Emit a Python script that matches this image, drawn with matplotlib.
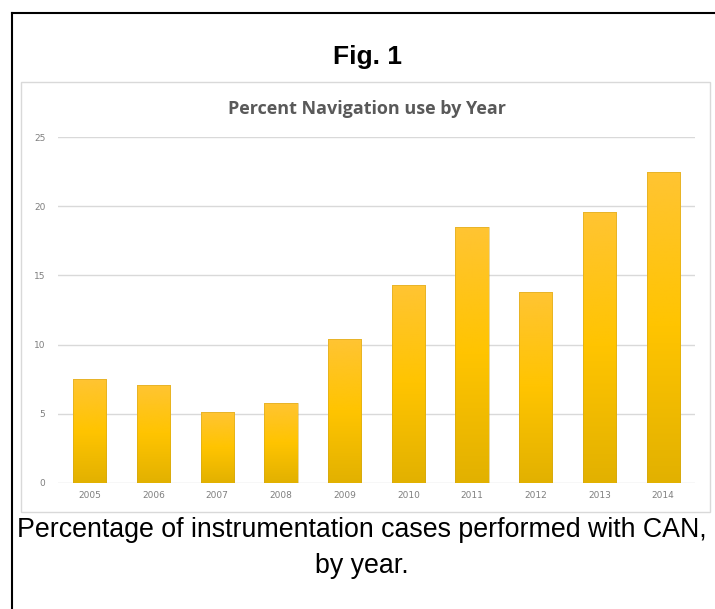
import numpy as np
import matplotlib
matplotlib.use("Agg")
from matplotlib import pyplot as plt
from matplotlib.colors import LinearSegmentedColormap
from matplotlib.patches import Rectangle
from matplotlib.lines import Line2D

years = ["2005", "2006", "2007", "2008", "2009", "2010", "2011", "2012", "2013", "2014"]
percent = [7.5, 7.1, 5.1, 5.8, 10.4, 14.3, 18.5, 13.8, 19.6, 22.5]
yticks = [0, 5, 10, 15, 20, 25]

W, H = 715, 609
fig = plt.figure(figsize=(W / 100, H / 100), dpi=100)

# cadre exterieur (seulement haut et gauche visibles)
fig.add_artist(Line2D([12 / W, 12 / W], [0, 1 - 13 / H], color="black", lw=1.5))
fig.add_artist(Line2D([12 / W, 1], [1 - 13 / H, 1 - 13 / H], color="black", lw=1.5))

# bordure grise de l'image du graphique
fig.add_artist(Rectangle((21 / W, 1 - 512 / H), (710 - 21) / W, (512 - 82) / H,
                         transform=fig.transFigure, fill=False, ec="#d9d9d9", lw=1.0))

fig.text(368 / W, 1 - 57 / H, "Fig. 1", ha="center", va="center",
         fontsize=19, fontweight="bold", family="Liberation Sans")
fig.text(367 / W, 1 - 109 / H, "Percent Navigation use by Year", ha="center", va="center",
         fontsize=13, fontweight="bold", color="#595959", family=["Open Sans", "DejaVu Sans"])

ax = fig.add_axes([58 / W, 1 - 483 / H, (695 - 58) / W, (483 - 137) / H])
x = np.arange(len(years))
bars = ax.bar(x, percent, width=0.52, color="#FFC000", zorder=2)

# degrade vertical dans chaque barre
cmap = LinearSegmentedColormap.from_list("gold", ["#E2B100", "#FFC400", "#FFC433"])
grad = np.linspace(0, 1, 256).reshape(-1, 1)
for b in bars:
    x0, w, h = b.get_x(), b.get_width(), b.get_height()
    im = ax.imshow(grad, cmap=cmap, aspect="auto", origin="lower",
                   extent=[x0, x0 + w, 0, h], zorder=3)
    im.set_clip_path(b)
    ax.add_patch(Rectangle((x0, 0), w, h, fill=False, ec="#c9a020", lw=0.6, alpha=0.5, zorder=4))

ax.set_xlim(-0.5, len(years) - 0.5)
ax.set_ylim(0, 25)
ax.set_yticks(yticks)
ax.set_xticks(x)
ax.set_xticklabels(years)
ax.yaxis.grid(True, color="#d9d9d9", lw=1.0, zorder=0)
ax.tick_params(length=0, labelsize=6.5, labelcolor="#7f7f7f")
ax.tick_params(axis="x", pad=6)
ax.tick_params(axis="y", pad=9)
for s in ax.spines.values():
    s.set_visible(False)

fig.text(362 / W, 1 - 530 / H, "Percentage of instrumentation cases performed with CAN,",
         ha="center", va="center", fontsize=19.3, family="Liberation Sans")
fig.text(362 / W, 1 - 566 / H, "by year.", ha="center", va="center",
         fontsize=19.3, family="Liberation Sans")

plt.savefig("out.png", dpi=100)
